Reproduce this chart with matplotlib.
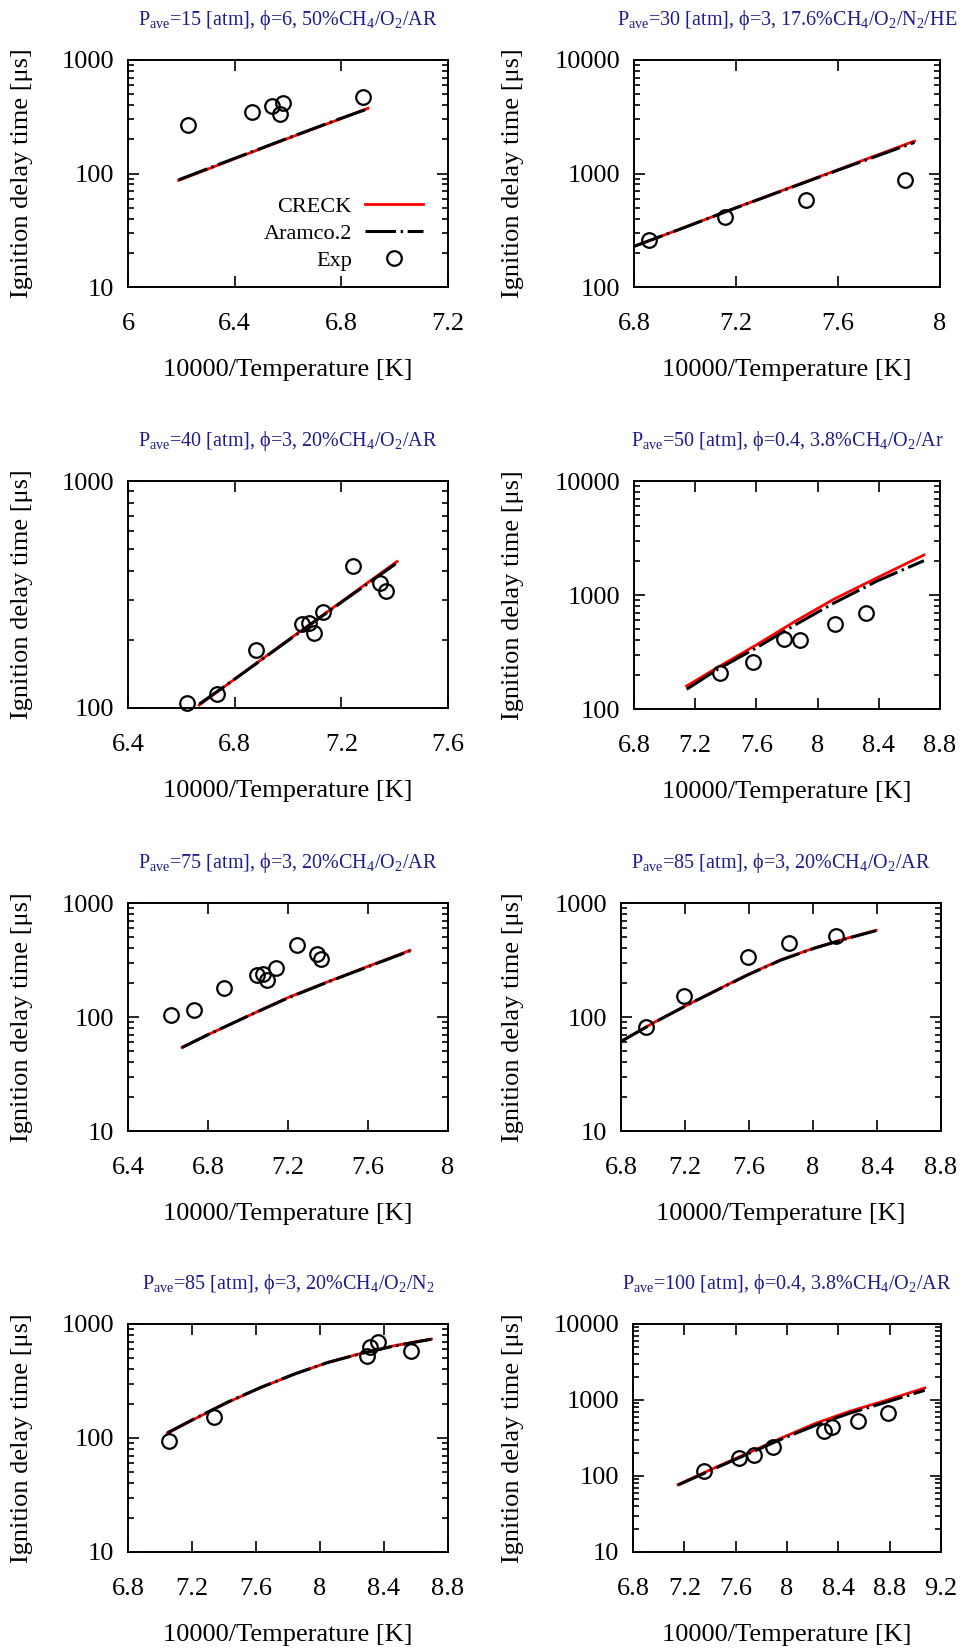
import matplotlib
matplotlib.use("Agg")
import matplotlib.pyplot as plt
from matplotlib.ticker import (LogLocator, MultipleLocator, NullLocator,
                               NullFormatter, FuncFormatter)

plt.rcParams['font.family'] = ['Liberation Serif', 'DejaVu Serif']
plt.rcParams['mathtext.fontset'] = 'custom'
plt.rcParams['mathtext.rm'] = 'Liberation Serif'
plt.rcParams['mathtext.it'] = 'Liberation Serif:italic'
plt.rcParams['mathtext.fallback'] = 'stix'

# ---- data ----
titles = [
    r'P$_{\rm ave}$=15 [atm], ϕ=6, 50%CH$_4$/O$_2$/AR',
    r'P$_{\rm ave}$=30 [atm], ϕ=3, 17.6%CH$_4$/O$_2$/N$_2$/HE',
    r'P$_{\rm ave}$=40 [atm], ϕ=3, 20%CH$_4$/O$_2$/AR',
    r'P$_{\rm ave}$=50 [atm], ϕ=0.4, 3.8%CH$_4$/O$_2$/Ar',
    r'P$_{\rm ave}$=75 [atm], ϕ=3, 20%CH$_4$/O$_2$/AR',
    r'P$_{\rm ave}$=85 [atm], ϕ=3, 20%CH$_4$/O$_2$/AR',
    r'P$_{\rm ave}$=85 [atm], ϕ=3, 20%CH$_4$/O$_2$/N$_2$',
    r'P$_{\rm ave}$=100 [atm], ϕ=0.4, 3.8%CH$_4$/O$_2$/AR',
]

# panel 1
p1_exp_x = [6.226, 6.464, 6.539, 6.570, 6.583, 6.883]
p1_exp_y = [267, 345, 393, 332, 420, 469]
p1_mod_x = [6.19, 6.4, 6.6, 6.8, 6.9]
p1_creck = [87, 135, 204, 305, 375]
p1_aramco = [88, 136, 205, 307, 372]

# panel 2
p2_exp_x = [6.859, 7.157, 7.475, 7.863]
p2_exp_y = [258, 415, 590, 873]
p2_mod_x = [6.8, 7.0, 7.2, 7.4, 7.6, 7.9]
p2_creck = [228, 336, 500, 735, 1080, 1930]
p2_aramco = [228, 336, 498, 730, 1070, 1880]

# panel 3
p3_exp_x = [6.622, 6.732, 6.879, 7.052, 7.077, 7.099, 7.133, 7.243, 7.344, 7.367]
p3_exp_y = [105, 115, 181, 234, 237, 214, 265, 424, 357, 326]
p3_mod_x = [6.667, 6.8, 7.0, 7.2, 7.409]
p3_creck = [103, 134, 199, 294, 442]
p3_aramco = [104, 134, 198, 292, 436]

# panel 4
p4_exp_x = [7.360, 7.580, 7.780, 7.883, 8.114, 8.314]
p4_exp_y = [205, 260, 414, 406, 561, 690]
p4_mod_x = [7.144, 7.345, 7.606, 7.846, 8.107, 8.39, 8.695]
p4_creck = [159, 231, 369, 580, 920, 1419, 2244]
p4_aramco = [149, 222, 348, 540, 850, 1330, 2000]

# panel 5
p5_exp_x = [6.617, 6.732, 6.879, 7.046, 7.073, 7.096, 7.138, 7.243, 7.343, 7.365]
p5_exp_y = [105, 116, 181, 235, 237, 212, 267, 425, 359, 325]
p5_mod_x = [6.67, 6.8, 7.0, 7.2, 7.4, 7.6, 7.81]
p5_creck = [54, 70, 102, 148, 204, 278, 384]
p5_aramco = [54, 70, 102, 147, 203, 276, 380]

# panel 6
p6_exp_x = [6.956, 7.192, 7.596, 7.852, 8.144]
p6_exp_y = [81, 154, 334, 445, 511]
p6_mod_x = [6.8, 7.008, 7.217, 7.425, 7.592, 7.8, 8.008, 8.217, 8.394]
p6_creck = [61, 89.8, 128, 180, 235, 318, 403, 493, 576]
p6_aramco = [61, 89.5, 128, 179, 234, 316, 401, 490, 572]

# panel 7
p7_exp_x = [7.056, 7.338, 8.296, 8.310, 8.363, 8.567]
p7_exp_y = [94.8, 154, 527, 624, 690, 576]
p7_mod_x = [7.046, 7.217, 7.425, 7.633, 7.842, 8.05, 8.258, 8.467, 8.696]
p7_creck = [110, 147, 206, 278, 364, 461, 553, 646, 738]
p7_aramco = [111, 148, 207, 279, 365, 460, 551, 643, 735]

# panel 8
p8_exp_x = [7.353, 7.626, 7.740, 7.891, 8.286, 8.351, 8.553, 8.787]
p8_exp_y = [115, 171, 189, 238, 387, 446, 535, 674]
p8_mod_x = [7.151, 7.449, 7.709, 7.969, 8.229, 8.488, 8.748, 9.073]
p8_creck = [77, 131, 205, 323, 498, 709, 960, 1439]
p8_aramco = [76, 128, 200, 312, 470, 670, 910, 1340]

panels = [
    (p1_exp_x, p1_exp_y, p1_mod_x, p1_creck, p1_aramco, (6, 7.2), (10, 1000)),
    (p2_exp_x, p2_exp_y, p2_mod_x, p2_creck, p2_aramco, (6.8, 8), (100, 10000)),
    (p3_exp_x, p3_exp_y, p3_mod_x, p3_creck, p3_aramco, (6.4, 7.6), (100, 1000)),
    (p4_exp_x, p4_exp_y, p4_mod_x, p4_creck, p4_aramco, (6.8, 8.8), (100, 10000)),
    (p5_exp_x, p5_exp_y, p5_mod_x, p5_creck, p5_aramco, (6.4, 8), (10, 1000)),
    (p6_exp_x, p6_exp_y, p6_mod_x, p6_creck, p6_aramco, (6.8, 8.8), (10, 1000)),
    (p7_exp_x, p7_exp_y, p7_mod_x, p7_creck, p7_aramco, (6.8, 8.8), (10, 1000)),
    (p8_exp_x, p8_exp_y, p8_mod_x, p8_creck, p8_aramco, (6.8, 9.2), (10, 10000)),
]

# axes boxes in pixels: left, right, top, bottom, y-label offset
W, H = 965, 1650
boxes = [
    (128, 448, 60, 287, 106), (634, 940, 60, 287, 121),
    (128, 448, 481, 708, 106), (634, 940, 481, 709, 121),
    (128, 448, 903, 1131, 106), (621, 941, 903, 1131, 108),
    (128, 448, 1324, 1552, 106), (633, 941, 1324, 1552, 120),
]

fig = plt.figure(figsize=(W / 100, H / 100), dpi=100)
title_color = '#1c1c8c'
fs = 19
dash_dot = (0, (10, 1.5, 0.8, 1.5))

for i, (pan, box) in enumerate(zip(panels, boxes)):
    ex, ey, mx, cr, ar, xl, yl = pan
    l, r, t, b, ylo = box
    ax = fig.add_axes([l / W, 1 - b / H, (r - l) / W, (b - t) / H])
    hpx = b - t
    wpx = r - l

    ax.plot(mx, cr, color='red', lw=2.0, label='CRECK')
    ax.plot(mx, ar, color='black', lw=2.2, linestyle=dash_dot, label='Aramco.2')
    ax.plot(ex, ey, 'o', mfc='none', mec='black', ms=10.5, mew=1.6,
            clip_on=False, label='Exp')

    ax.set_yscale('log')
    ax.set_xlim(*xl)
    ax.set_ylim(*yl)
    ax.xaxis.set_major_locator(MultipleLocator(0.4))
    ax.xaxis.set_minor_locator(NullLocator())
    ax.xaxis.set_major_formatter(FuncFormatter(lambda v, p: '%g' % round(v, 2)))
    ax.yaxis.set_major_locator(LogLocator(base=10))
    ax.yaxis.set_minor_locator(LogLocator(base=10, subs=range(2, 10)))
    ax.yaxis.set_major_formatter(FuncFormatter(lambda v, p: '%g' % v))
    ax.yaxis.set_minor_formatter(NullFormatter())

    ax.tick_params(which='both', direction='in', top=True, right=True,
                   labelsize=fs, width=1.2)
    ax.tick_params(which='major', length=8)
    ax.tick_params(which='minor', length=4)
    ax.tick_params(axis='x', which='major', pad=19)
    ax.tick_params(axis='y', which='major', pad=10)
    for s in ax.spines.values():
        s.set_linewidth(1.4)

    ax.set_xlabel('10000/Temperature [K]', fontsize=fs)
    ax.xaxis.set_label_coords(0.5, -83 / hpx)
    ax.xaxis.label.set_va('center')
    ax.set_ylabel('Ignition delay time [μs]', fontsize=fs)
    ax.yaxis.set_label_coords(-ylo / wpx, 0.5)
    ax.yaxis.label.set_va('center')

    ax.text(0.5, 1 + 40 / hpx, titles[i], transform=ax.transAxes,
            ha='center', va='center', fontsize=14.5, color=title_color)

    if i == 0:
        ax.legend(loc='lower right', bbox_to_anchor=(0.922, 0.07),
                  frameon=False, markerfirst=False, fontsize=16,
                  handlelength=2.6, handletextpad=0.6, labelspacing=0.3,
                  borderpad=0, borderaxespad=0)

fig.savefig('out.png', dpi=100)
